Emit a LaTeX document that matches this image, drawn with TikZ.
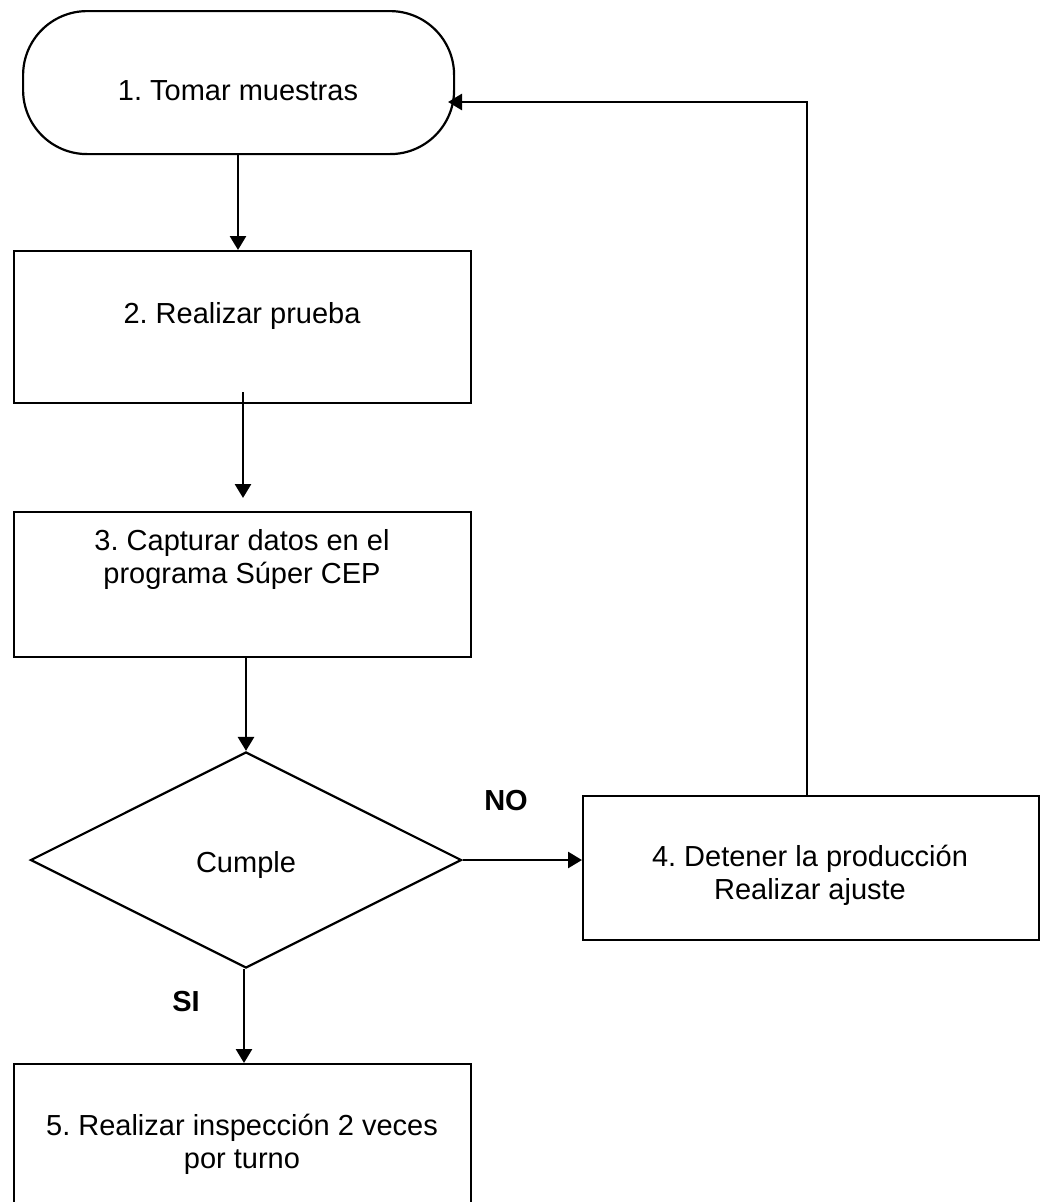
\documentclass[tikz,border=0pt]{standalone}
\usepackage{fontspec}
\setmainfont{Liberation Sans}
\usetikzlibrary{arrows.meta,shapes.geometric,calc}
\frenchspacing

\begin{document}
\begin{tikzpicture}[x=1pt,y=-1pt,
  shapeline/.style={draw=black,line width=2.2pt,fill=white,inner sep=0pt},
  procbox/.style={shapeline,rectangle,anchor=north west},
  decision/.style={shapeline,diamond,minimum width=431pt,minimum height=216pt},
  terminal/.style={shapeline,rectangle,rounded corners=64pt,anchor=north west},
  arr/.style={line width=2.7pt,-{Triangle[length=14pt,width=16pt]}},
  txt/.style={anchor=base,align=center,inner sep=0pt,font=\fontsize{29}{33}\selectfont},
  tag/.style={anchor=base,inner sep=0pt,font=\fontsize{29}{33}\selectfont\bfseries}]

\useasboundingbox (0,0) rectangle (1043,1202);

% shapes
\node[terminal,minimum width=431pt,minimum height=143pt] (term) at (22,10) {};
\node[procbox,minimum width=457pt,minimum height=152pt] (b2) at (13,250) {};
\node[procbox,minimum width=457pt,minimum height=145pt] (b3) at (13,511) {};
\node[decision] (dia) at (246,860) {};
\node[procbox,minimum width=456pt,minimum height=144pt] (b4) at (582,795) {};
\node[procbox,minimum width=457pt,minimum height=160pt] (b5) at (13,1063) {};

% texts (base = baseline of the last line)
\node[txt] (t1) at (238,100) {1. Tomar muestras};
\node[txt] (t2) at (242,323) {2. Realizar prueba};
\node[txt] (t3) at (242,583) {3. Capturar datos en el\\programa Súper CEP};
\node[txt] (t4) at (246,872) {Cumple};
\node[txt] (t5) at (810,899) {4. Detener la producción\\Realizar ajuste};
\node[txt] (t6) at (242,1168) {5. Realizar inspección 2 veces\\por turno};
\node[tag] (no) at (506,810) {NO};
\node[tag] (si) at (186,1011) {SI};

% connectors
\coordinate (c23) at (243,498);
\coordinate (ret) at (448,102);
\draw[arr] (term.south -| t1) -- (b2.north -| t1);
\draw[arr] ($(b2.south -| c23)+(0,-12)$) -- (c23);
\draw[arr] (dia.north |- b3.south) -- (dia.north);
\draw[arr] (dia.east) -- (dia.east -| b4.west);
\draw[arr] ($(dia.south)+(-2,0)$) -- ($(dia.south |- b5.north)+(-2,0)$);
\draw[arr] ($(b4.north)+(-4,0)$) |- (ret);

\end{tikzpicture}
\end{document}
